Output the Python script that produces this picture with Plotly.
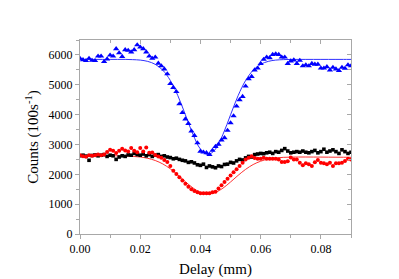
import plotly.graph_objects as go

# Delay positions (mm), one point every 0.001 mm
delay = [round(0.001 * i, 3) for i in range(91)]

blue_counts = [
    5881, 5838, 5806, 5881, 5817, 5806, 5958, 5958, 5773, 5860,
    5990, 5958, 6206, 6066, 5947, 6173, 6152, 6098, 6173, 6336,
    6260, 6206, 6098, 5958, 5881, 5925, 5720, 5633, 5525, 5363,
    5038, 4908, 4768, 4357, 4065, 3849, 3700, 3450, 3300, 3050,
    2770, 2740, 2720, 2660, 2800, 2930, 3006, 3146, 3221, 3470,
    3720, 3957, 4282, 4498, 4606, 4953, 5200, 5277, 5491, 5556,
    5709, 5848, 5925, 5903, 6011, 6033, 6011, 5925, 5925, 5709,
    5796, 5828, 5709, 5817, 5633, 5666, 5633, 5709, 5687, 5687,
    5557, 5557, 5601, 5492, 5579, 5525, 5471, 5579, 5547, 5666,
    5633,
]

red_counts = [
    2638, 2606, 2590, 2638, 2620, 2640, 2660, 2638, 2660, 2746,
    2822, 2790, 2714, 2790, 2854, 2800, 2760, 2880, 2790, 2740,
    2880, 2760, 2900, 2720, 2730, 2650, 2600, 2552, 2476, 2411,
    2281, 2119, 2011, 1903, 1795, 1687, 1579, 1503, 1438, 1395,
    1362, 1362, 1362, 1362, 1395, 1416, 1524, 1633, 1741, 1849,
    1957, 2065, 2173, 2281, 2390, 2498, 2552, 2606, 2550, 2519,
    2519, 2552, 2519, 2519, 2519, 2519, 2498, 2411, 2411, 2440,
    2560, 2498, 2498, 2390, 2303, 2368, 2335, 2281, 2400, 2476,
    2390, 2368, 2335, 2390, 2281, 2368, 2368, 2390, 2444, 2519,
    2500,
]

black_counts = [
    2620, 2640, 2610, 2470, 2630, 2650, 2620, 2640, 2660, 2600,
    2640, 2620, 2500, 2580, 2620, 2600, 2650, 2640, 2700, 2660,
    2640, 2680, 2620, 2660, 2600, 2640, 2660, 2600, 2620, 2580,
    2560, 2520, 2540, 2500, 2470, 2450, 2400, 2420, 2380, 2320,
    2300, 2340, 2230, 2280, 2250, 2220, 2280, 2260, 2330, 2340,
    2400, 2380, 2450, 2500, 2480, 2550, 2600, 2580, 2660, 2680,
    2700, 2690, 2720, 2740, 2700, 2760, 2740, 2800, 2860, 2780,
    2720, 2740, 2760, 2740, 2780, 2740, 2720, 2760, 2800, 2720,
    2760, 2840, 2740, 2780, 2820, 2760, 2700, 2820, 2760, 2700,
    2740,
]

# Fitted curves, sampled every 0.0025 mm
fit_delay = [round(0.0025 * i, 4) for i in range(37)]

blue_fit = [
    5850, 5850, 5850, 5850, 5850, 5850, 5850, 5842, 5827, 5783,
    5684, 5487, 5144, 4634, 3994, 3343, 2846, 2660, 2846, 3343,
    3994, 4634, 5144, 5487, 5684, 5783, 5827, 5842, 5850, 5850,
    5850, 5850, 5850, 5850, 5850, 5850, 5850,
]

red_fit = [
    2630, 2628, 2627, 2625, 2623, 2619, 2613, 2601, 2579, 2536,
    2462, 2347, 2183, 1977, 1753, 1545, 1396, 1342, 1393, 1538,
    1743, 1964, 2166, 2327, 2439, 2509, 2549, 2568, 2576, 2579,
    2580, 2578, 2577, 2575, 2573, 2572, 2570,
]

x_ticks = [0.0, 0.02, 0.04, 0.06, 0.08]
x_tick_labels = ["0.00", "0.02", "0.04", "0.06", "0.08"]
y_ticks = [0, 1000, 2000, 3000, 4000, 5000, 6000]

AXIS_GRAY = "#a8a8a8"
FONT = "Liberation Serif, Times New Roman, serif"

fig = go.Figure()

fig.add_trace(go.Scatter(x=fit_delay, y=blue_fit, mode="lines",
                         line=dict(color="#3030ff", width=1, shape="spline"),
                         showlegend=False, hoverinfo="skip"))
fig.add_trace(go.Scatter(x=fit_delay, y=red_fit, mode="lines",
                         line=dict(color="#ff3030", width=1, shape="spline"),
                         showlegend=False, hoverinfo="skip"))
fig.add_trace(go.Scatter(x=delay, y=black_counts, mode="markers",
                         marker=dict(symbol="square", size=3.6, color="black"),
                         showlegend=False))
fig.add_trace(go.Scatter(x=delay, y=red_counts, mode="markers",
                         marker=dict(symbol="circle", size=4, color="red"),
                         showlegend=False))
fig.add_trace(go.Scatter(x=delay, y=blue_counts, mode="markers",
                         marker=dict(symbol="triangle-up", size=5.5, color="blue"),
                         showlegend=False))
# empty trace so the mirrored top/right axes are drawn
fig.add_trace(go.Scatter(x=[None], y=[None], xaxis="x2", yaxis="y2",
                         showlegend=False, hoverinfo="skip"))

common = dict(showgrid=False, zeroline=False, showline=True, linecolor=AXIS_GRAY,
              linewidth=1, tickcolor=AXIS_GRAY, ticklen=4, tickwidth=1)

fig.update_layout(
    width=399, height=279,
    margin=dict(l=72, r=56, t=32, b=47),
    paper_bgcolor="white", plot_bgcolor="white",
    font=dict(family=FONT, size=12, color="black"),
    xaxis=dict(range=[0, 0.09], tickvals=x_ticks, ticktext=x_tick_labels,
               ticks="outside",
               minor=dict(dtick=0.01, tick0=0, ticks="outside", ticklen=3,
                          tickcolor=AXIS_GRAY),
               title=dict(text="Delay (mm)", font=dict(size=15, family=FONT),
                          standoff=8),
               tickfont=dict(size=12, family=FONT), **common),
    yaxis=dict(range=[0, 6500], tickvals=y_ticks, ticks="outside",
               minor=dict(dtick=500, tick0=0, ticks="outside", ticklen=3,
                          tickcolor=AXIS_GRAY),
               title=dict(text="Counts (100s<sup>-1</sup>)",
                          font=dict(size=15, family=FONT), standoff=6),
               tickfont=dict(size=12, family=FONT), **common),
    xaxis2=dict(range=[0, 0.09], overlaying="x", side="top", anchor="y",
                tickvals=x_ticks, showticklabels=False, ticks="inside",
                minor=dict(dtick=0.01, tick0=0, ticks="inside", ticklen=3,
                           tickcolor=AXIS_GRAY),
                **common),
    yaxis2=dict(range=[0, 6500], overlaying="y", side="right", anchor="x",
                tickvals=y_ticks, showticklabels=False, ticks="inside",
                minor=dict(dtick=500, tick0=0, ticks="inside", ticklen=3,
                           tickcolor=AXIS_GRAY),
                **common),
)

fig.write_html("out.html")
